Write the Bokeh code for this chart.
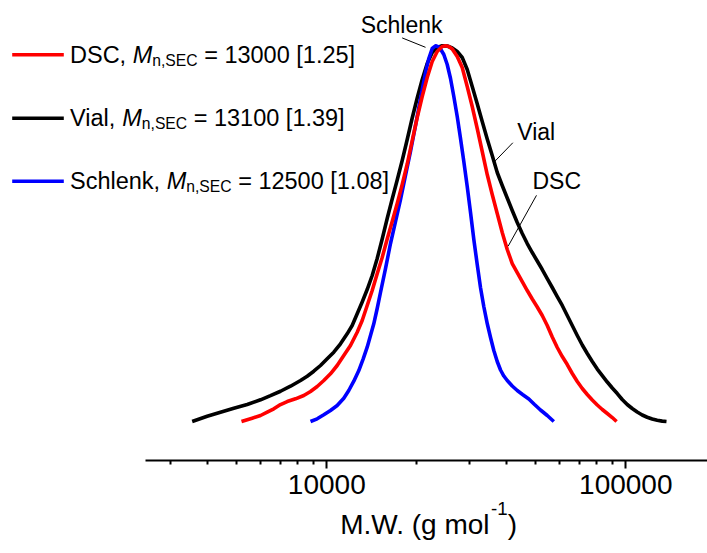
from bokeh.plotting import figure
from bokeh.models import Range1d, FixedTicker, PrintfTickFormatter, Label, BoxAnnotation
from bokeh.embed import file_html
from bokeh.resources import INLINE

# ---------------- data ----------------
vial_mw = [3547, 3981, 4410, 4887, 5418, 6004, 6482, 7002, 7563, 8169,
           8600, 9047, 9527, 10031, 10554, 11112, 11700, 12160, 12638, 13135,
           13650, 14186, 14743, 15322, 15924, 16549, 17199, 17875, 18577, 19306,
           20064, 20852, 21670, 22521, 23405, 24325, 25279, 26272, 27304, 28375,
           29490, 30647, 31851, 33101, 34402, 35752, 37156, 38615, 40132, 41708,
           43346, 45048, 46816, 48655, 50565, 52551, 54614, 56760, 58988, 61304,
           63711, 66214, 68813, 71515, 74323, 77242, 80275, 83427, 86702, 90107,
           93644, 97267, 101084, 105053, 109174, 113463, 117911, 122543, 127354, 132354,
           136811]
vial_int = [0.0, 0.0141, 0.0248, 0.0354, 0.0452, 0.0578, 0.0687, 0.0806, 0.0940, 0.1091,
            0.1206, 0.1339, 0.1491, 0.1669, 0.1845, 0.2068, 0.2334, 0.2555, 0.2867, 0.3181,
            0.3513, 0.3886, 0.4339, 0.4858, 0.5403, 0.5922, 0.6428, 0.6947, 0.7506, 0.8078,
            0.8611, 0.9103, 0.9529, 0.9822, 0.9955, 1.0, 0.9995, 0.9941, 0.9848, 0.9689,
            0.9369, 0.8917, 0.8456, 0.7985, 0.7519, 0.7080, 0.6628, 0.6282, 0.5949, 0.5616,
            0.5297, 0.5004, 0.4738, 0.4498, 0.4272, 0.4046, 0.3806, 0.3567, 0.3327, 0.3088,
            0.2821, 0.2555, 0.2289, 0.2036, 0.1810, 0.1597, 0.1397, 0.1224, 0.1051, 0.0892,
            0.0745, 0.0586, 0.0452, 0.0346, 0.0253, 0.0173, 0.0114, 0.0067, 0.0032, 0.0011,
            0.0]

dsc_mw = [5185, 5629, 6004, 6321, 6651, 7002, 7373, 7859, 8377, 8822,
          9288, 9772, 10289, 10833, 11399, 12002, 12638, 13135, 13650, 14186,
          14743, 15322, 15924, 16549, 17199, 17875, 18577, 19306, 20064, 20852,
          21670, 22521, 23405, 24325, 24950, 25593, 26272, 27304, 28375, 29490,
          30647, 31851, 33101, 34402, 35752, 37156, 38615, 40132, 41708, 43346,
          45048, 46816, 48655, 50565, 52551, 54614, 56760, 58988, 61304, 63711,
          66214, 68813, 71515, 74323, 77242, 80275, 83427, 86702, 90107, 93141]
dsc_int = [0.0, 0.0088, 0.0160, 0.0248, 0.0338, 0.0452, 0.0532, 0.0604, 0.0692, 0.0799,
           0.0932, 0.1091, 0.1270, 0.1491, 0.1757, 0.2023, 0.2377, 0.2688, 0.3088, 0.3487,
           0.3931, 0.4365, 0.4858, 0.5323, 0.5802, 0.6308, 0.6854, 0.7479, 0.8092, 0.8650,
           0.9156, 0.9582, 0.9848, 0.9981, 1.0, 0.9981, 0.9915, 0.9715, 0.9422, 0.8917,
           0.8384, 0.7799, 0.7187, 0.6574, 0.6042, 0.5536, 0.5031, 0.4578, 0.4205, 0.3966,
           0.3726, 0.3487, 0.3261, 0.3048, 0.2821, 0.2555, 0.2249, 0.1970, 0.1730, 0.1517,
           0.1278, 0.1065, 0.0878, 0.0719, 0.0572, 0.0439, 0.0319, 0.0213, 0.0106, 0.0]

schlenk_mw = [8822, 9288, 9772, 10289, 10833, 11399, 11845, 12312, 12797, 13236,
              13650, 14001, 14361, 14743, 15121, 15716, 16334, 16975, 17641, 18333,
              19054, 19803, 20580, 21388, 21939, 22521, 23100, 23695, 24008, 24625,
              25279, 25930, 26597, 27304, 28005, 28725, 29490, 30249, 31028, 31851,
              32662, 33503, 34402, 35287, 36195, 37156, 38111, 39092, 40132, 41708,
              43346, 45152, 47398, 49525, 51847, 54614, 57439]
schlenk_int = [0.0, 0.0072, 0.0178, 0.0293, 0.0426, 0.0620, 0.0825, 0.1073, 0.1357, 0.1669,
               0.1978, 0.2289, 0.2600, 0.3008, 0.3434, 0.4072, 0.4738, 0.5323, 0.5909, 0.6548,
               0.7187, 0.7879, 0.8597, 0.9289, 0.9662, 0.9928, 1.0, 0.9968, 0.9915, 0.9768,
               0.9502, 0.9130, 0.8650, 0.8118, 0.7533, 0.6920, 0.6255, 0.5563, 0.4844, 0.4179,
               0.3567, 0.3061, 0.2608, 0.2236, 0.1890, 0.1597, 0.1371, 0.1211, 0.1091, 0.0945,
               0.0825, 0.0719, 0.0599, 0.0452, 0.0306, 0.0160, 0.0]

series_names = ["DSC", "Vial", "Schlenk"]
series_mn = ["13000", "13100", "12500"]
series_disp = ["1.25", "1.39", "1.08"]
series_colors = ["#ff0000", "#000000", "#0000ff"]

major_ticks = [10000, 100000]
minor_ticks = [3000, 4000, 5000, 6000, 7000, 8000, 9000,
               20000, 30000, 40000, 50000, 60000, 70000, 80000, 90000]

FONT = "Liberation Sans"
ARIAL = {' ': 0.278, ',': 0.278, '.': 0.278, '=': 0.584, '[': 0.278, ']': 0.278,
         '(': 0.333, ')': 0.333, '-': 0.333, 'D': 0.722, 'S': 0.667, 'C': 0.722,
         'E': 0.667, 'M': 0.833, 'W': 0.944, 'V': 0.667, 'i': 0.222, 'a': 0.556,
         'l': 0.222, 'c': 0.5, 'h': 0.556, 'e': 0.556, 'n': 0.556, 'k': 0.5,
         'g': 0.556, 'm': 0.833, 'o': 0.556}


def tw(s, fs):
    return sum(ARIAL.get(ch, 0.556) for ch in s) * fs


PX = 375.7            # pixels per unit of normalised intensity
BFIX = 9.0 / PX       # baseline correction for Label text

# ---------------- figure ----------------
p = figure(width=707, height=553, x_axis_type="log", y_axis_location=None,
           x_range=Range1d(810.6, 187600), y_range=Range1d(-0.3513, 1.1206),
           output_backend="svg", toolbar_location=None,
           min_border_left=0, min_border_right=0, min_border_top=0, min_border_bottom=0)
p.outline_line_color = None
p.grid.visible = False
p.background_fill_color = "white"
p.border_fill_color = "white"

ax = p.xaxis[0]
ax.fixed_location = -0.1038
ax.ticker = FixedTicker(ticks=major_ticks, minor_ticks=minor_ticks)
ax.formatter = PrintfTickFormatter(format="%d")
ax.bounds = (2480, 187600)
ax.axis_line_width = 2
ax.axis_line_color = "black"
ax.major_tick_in = 0
ax.major_tick_out = 8
ax.minor_tick_in = 0
ax.minor_tick_out = 4
ax.major_tick_line_width = 2
ax.minor_tick_line_width = 2
ax.major_tick_line_color = "black"
ax.minor_tick_line_color = "black"
ax.major_label_text_font = FONT
ax.major_label_text_font_size = "28px"
ax.major_label_text_color = "black"
ax.major_label_standoff = 6

LW = 3.6
p.line(vial_mw, vial_int, line_color=series_colors[1], line_width=LW, line_join="round")
p.line(schlenk_mw, schlenk_int, line_color=series_colors[2], line_width=LW, line_join="round")
p.line(dsc_mw, dsc_int, line_color=series_colors[0], line_width=LW, line_join="round")


def lab(text, x, y, fs, style="normal", align="left", xu="data"):
    p.add_layout(Label(x=x, y=y + BFIX, x_units=xu, text=text, text_font=FONT,
                       text_font_size=f"{fs}px", text_font_style=style,
                       text_color="black", text_baseline="alphabetic", text_align=align))


# ---------------- legend (manual, for italic M and subscript) ----------------
FS = 23.5
FS_SUB = 15.7
row_base = [0.9529, 0.7839, 0.6162]
row_line = [0.9761, 0.8073, 0.6396]
sub_drop = 0.0152
half = 0.0048
x0 = 69.5
for name, mn, d, c, yb, yl in zip(series_names, series_mn, series_disp, series_colors,
                                  row_base, row_line):
    p.add_layout(BoxAnnotation(left=11.7, right=63.3, left_units="screen", right_units="screen",
                               bottom=yl - half, top=yl + half, fill_color=c, fill_alpha=1.0,
                               line_color=None))
    t1 = name + ","
    xm = x0 + tw(t1 + " ", FS)
    xs = xm + tw("M", FS)
    xr = xs + tw("n,SEC", FS_SUB) + tw(" ", FS)
    t4 = "= " + mn + " [" + d + "]"
    lab(t1, x0, yb, FS, xu="screen")
    lab("M", xm, yb, FS, style="italic", xu="screen")
    lab("n,SEC", xs, yb - sub_drop, FS_SUB, xu="screen")
    lab(t4, xr, yb, FS, xu="screen")

# ---------------- curve annotations ----------------
FS_ANN = 23
lab("Schlenk", 24380, 1.032, FS_ANN, align="right")
lab("Vial", 43340, 0.746, FS_ANN)
lab("DSC", 48750, 0.617, FS_ANN)
lead_x0 = [17870, 41900, 50270]
lead_y0 = [1.021, 0.742, 0.602]
lead_x1 = [21390, 36020, 40440]
lead_y1 = [0.996, 0.688, 0.467]
p.segment(lead_x0, lead_y0, lead_x1, lead_y1, line_color="black", line_width=1)

# ---------------- axis title with superscript ----------------
FS_T = 28
FS_SUP = 18.7
tx = 339.7
t_main = "M.W. (g mol"
lab(t_main, tx, -0.298, FS_T, xu="screen")
xs_ = tx + tw(t_main, FS_T)
lab("-1", xs_, -0.2555, FS_SUP, xu="screen")
lab(")", xs_ + tw("-1", FS_SUP), -0.298, FS_T, xu="screen")

open("out.html", "w").write(file_html(p, INLINE))
